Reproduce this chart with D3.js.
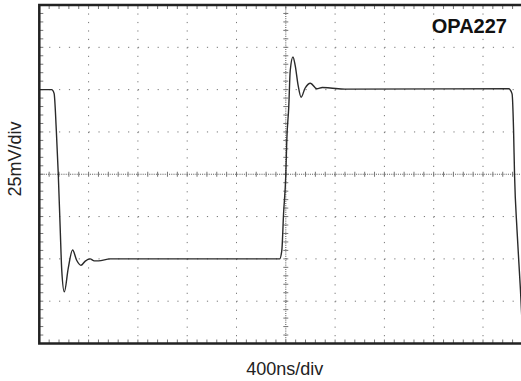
<!DOCTYPE html>
<html>
<head>
<meta charset="utf-8">
<script src="https://cdn.jsdelivr.net/npm/d3@7"></script>
<style>
  body { margin: 0; background: #fff; }
  svg { display: block; font-family: "Liberation Sans", Arial, sans-serif; }
</style>
</head>
<body>
<svg id="chart" width="521" height="381"></svg>
<script>
// scope trace, 400ns/div horizontal, 25mV/div vertical
let timeNs = [0, 100, 120, 138, 154, 170, 182, 203, 235, 270, 303, 338, 373, 412, 446, 480, 576,
              1950, 1968, 1982, 2000, 2008, 2024, 2036, 2058, 2076, 2100, 2124, 2156, 2200, 2252, 2296, 2360, 2480,
              3808, 3836, 3848, 3856, 3876, 3904, 3920];
let voltMv = [50, 50, 47.8, 26, 0, -33, -56.5, -69.5, -55.4, -44.8, -50.8, -53.8, -51.3, -50, -51.2, -51.2, -50,
              -50, -44.8, -23, -0.5, 20, 39.8, 61.3, 69.3, 64.3, 52.5, 45.5, 50.8, 53.8, 50.5, 51.3, 51, 50.3,
              50.5, 47.5, 26, -0.5, -33, -68.5, -92.5];

let xDivs = 10, yDivs = 8, minorPerDiv = 5;
let nsPerDiv = 400, mvPerDiv = 25;
let title = "OPA227";
let xLabel = "400ns/div";
let yLabel = "25mV/div";

let colourFrame = "#222";
let colourGrid  = "#777";
let colourTrace = "#2a2a2a";

let plotLeft = 39.3, plotTop = 5, plotW = 493, plotH = 338.5;

let svg = d3.select("#chart");

let x = d3.scaleLinear()
  .domain([0, xDivs * nsPerDiv])
  .range([plotLeft, plotLeft + plotW]);
let y = d3.scaleLinear()
  .domain([-yDivs / 2 * mvPerDiv, yDivs / 2 * mvPerDiv])
  .range([plotTop + plotH, plotTop]);

let xMajor = d3.range(0, xDivs + 1).map(d => d * nsPerDiv);
let yMajor = d3.range(-yDivs / 2, yDivs / 2 + 1).map(d => d * mvPerDiv);
let xMinor = d3.range(0, xDivs * minorPerDiv + 1).map(d => d * nsPerDiv / minorPerDiv);
let yMinor = d3.range(-yDivs / 2 * minorPerDiv, yDivs / 2 * minorPerDiv + 1).map(d => d * mvPerDiv / minorPerDiv);

let xStep = plotW / xDivs / minorPerDiv;
let yStep = plotH / yDivs / minorPerDiv;
let xMid = x(xDivs / 2 * nsPerDiv);

let grid = svg.append("g");

// dotted graticule
grid.selectAll(".vgrid")
  .data(xMajor.filter(d => d > 0 && d !== xDivs / 2 * nsPerDiv))
  .enter().append("line")
    .attr("x1", d => x(d)).attr("x2", d => x(d))
    .attr("y1", plotTop).attr("y2", plotTop + plotH)
    .style("stroke", colourGrid)
    .style("stroke-width", 1)
    .style("stroke-dasharray", `1.2 ${yStep - 1.2}`);

grid.selectAll(".hgrid")
  .data(yMajor.filter(d => d !== 0 && Math.abs(d) < yDivs / 2 * mvPerDiv))
  .enter().append("line")
    .attr("y1", d => y(d)).attr("y2", d => y(d))
    .attr("x1", plotLeft).attr("x2", plotLeft + plotW)
    .style("stroke", colourGrid)
    .style("stroke-width", 1)
    .style("stroke-dasharray", `1.2 ${xStep - 1.2}`);

// centre cross, finer dots + minor ticks
grid.append("line")
  .attr("x1", xMid).attr("x2", xMid)
  .attr("y1", plotTop).attr("y2", plotTop + plotH)
  .style("stroke", "#555").style("stroke-width", 1).style("stroke-dasharray", "1 1.2");
grid.append("line")
  .attr("y1", y(0)).attr("y2", y(0))
  .attr("x1", plotLeft).attr("x2", plotLeft + plotW)
  .style("stroke", "#555").style("stroke-width", 1).style("stroke-dasharray", "1 1.2");

grid.selectAll(".cx")
  .data(xMinor)
  .enter().append("line")
    .attr("x1", d => x(d)).attr("x2", d => x(d))
    .attr("y1", y(0) - 2.5).attr("y2", y(0) + 2.5)
    .style("stroke", colourGrid).style("stroke-width", 1);
grid.selectAll(".cy")
  .data(yMinor)
  .enter().append("line")
    .attr("y1", d => y(d)).attr("y2", d => y(d))
    .attr("x1", xMid - 2.5).attr("x2", xMid + 2.5)
    .style("stroke", colourGrid).style("stroke-width", 1);

// minor ticks along frame edges
grid.selectAll(".bt")
  .data(xMinor)
  .enter().append("line")
    .attr("x1", d => x(d)).attr("x2", d => x(d))
    .attr("y1", plotTop + plotH).attr("y2", plotTop + plotH - 4)
    .style("stroke", colourGrid).style("stroke-width", 1);
grid.selectAll(".tt")
  .data(xMinor)
  .enter().append("line")
    .attr("x1", d => x(d)).attr("x2", d => x(d))
    .attr("y1", plotTop).attr("y2", plotTop + 4)
    .style("stroke", colourGrid).style("stroke-width", 1);
grid.selectAll(".lt")
  .data(yMinor)
  .enter().append("line")
    .attr("y1", d => y(d)).attr("y2", d => y(d))
    .attr("x1", plotLeft).attr("x2", plotLeft + 4)
    .style("stroke", colourGrid).style("stroke-width", 1);

// trace
svg.append("clipPath").attr("id", "clip")
  .append("rect").attr("x", plotLeft).attr("y", plotTop).attr("width", plotW).attr("height", plotH);

let trace = timeNs.map((t, i) => [t, voltMv[i]]);
let line = d3.line()
  .x(d => x(d[0]))
  .y(d => y(d[1]))
  .curve(d3.curveMonotoneX);

svg.append("path")
  .datum(trace)
  .attr("clip-path", "url(#clip)")
  .attr("d", line)
  .style("fill", "none")
  .style("stroke", colourTrace)
  .style("stroke-width", 1.4);

// frame
svg.append("rect")
  .attr("x", plotLeft).attr("y", plotTop)
  .attr("width", plotW).attr("height", plotH)
  .style("fill", "none")
  .style("stroke", colourFrame)
  .style("stroke-width", 2.5);

// texts
svg.append("text")
  .attr("x", 507).attr("y", 33)
  .attr("text-anchor", "end")
  .style("font-weight", "bold")
  .style("font-size", "20px")
  .style("fill", "#111")
  .text(title);

svg.append("text")
  .attr("x", xMid - 1).attr("y", 375)
  .attr("text-anchor", "middle")
  .style("font-size", "18px")
  .style("fill", "#222")
  .text(xLabel);

svg.append("text")
  .attr("transform", "translate(21,159) rotate(-90)")
  .attr("text-anchor", "middle")
  .style("font-size", "18px")
  .style("fill", "#222")
  .text(yLabel);
</script>
</body>
</html>
